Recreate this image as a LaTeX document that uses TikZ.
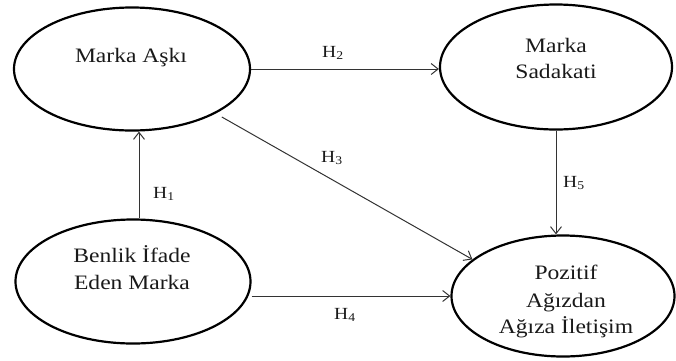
\documentclass[tikz,border=0pt]{standalone}
\usepackage{fontspec}
\setmainfont[FakeStretch=1.15]{Liberation Serif}
\usetikzlibrary{shapes.geometric,arrows.meta}
\begin{document}
\begin{tikzpicture}[x=1pt,y=-1pt,
  oval/.style={ellipse,draw=black,line width=2.2pt,inner sep=0pt},
  txt/.style={anchor=base,inner sep=0pt,font=\fontsize{20.5}{24}\selectfont,text=black!90},
  hyp/.style={anchor=base west,inner sep=0pt,font=\fontsize{17}{20}\selectfont,text=black!90},
  arr/.style={draw=black!80,line width=1pt,-{Straight Barb[length=7pt,width=11pt]}}]
\useasboundingbox (0,0) rectangle (676,360);
% ellipses
\node[oval,minimum width=236pt,minimum height=123pt] (A) at (132,69) {};
\node[oval,minimum width=232pt,minimum height=125pt] (B) at (556,67) {};
\node[oval,minimum width=235pt,minimum height=124pt] (C) at (133,281.5) {};
\node[oval,minimum width=223pt,minimum height=121pt] (D) at (563,296) {};
% texts
\node[txt] (tA) at (131,62) {Marka Aşkı};
\node[txt] (tB1) at (556,52) {Marka};
\node[txt] (tB2) at (556,78) {Sadakati};
\node[txt] (tC1) at (132,262) {Benlik İfade};
\node[txt] (tC2) at (132,289) {Eden Marka};
\node[txt] (tD1) at (566,279) {Pozitif};
\node[txt] (tD2) at (566,307) {Ağızdan};
\node[txt] (tD3) at (566,333) {Ağıza İletişim};
% connectors
\draw[arr] ([xshift=6pt]C.north) -- ([xshift=6pt]C.north |- A.south);
\draw[arr] (A.east) -- (B.west |- A.east);
\draw[arr,shorten <=7pt] (A.-28) -- (D.158);
\draw[arr] (C.east |- D.west) -- (D.west);
\draw[arr] (B.south) -- (B.south |- D.north);
% hypothesis labels
\node[hyp] (h1) at (153,198) {H\textsubscript{1}};
\node[hyp] (h2) at (322,57) {H\textsubscript{2}};
\node[hyp] (h3) at (321,162) {H\textsubscript{3}};
\node[hyp] (h4) at (334,319) {H\textsubscript{4}};
\node[hyp] (h5) at (563,187) {H\textsubscript{5}};
\end{tikzpicture}
\end{document}
